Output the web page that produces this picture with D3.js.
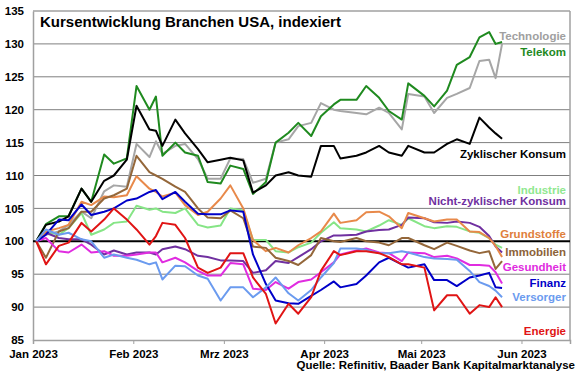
<!DOCTYPE html>
<html>
<head>
<meta charset="utf-8">
<script src="https://cdn.jsdelivr.net/npm/d3@7"></script>
<style>
  body { margin: 0; background: #fff; }
  text { font-family: Arial, "Liberation Sans", sans-serif; font-weight: bold; }
</style>
</head>
<body>
<div id="chart"></div>
<script>
// Handelstage (Stichproben), Index 100 = Jahresanfang
const dates = ["2023-01-02","2023-01-05","2023-01-09","2023-01-12","2023-01-16","2023-01-19","2023-01-23","2023-01-26","2023-01-30",
  "2023-02-02","2023-02-06","2023-02-08","2023-02-10","2023-02-14","2023-02-17","2023-02-21","2023-02-24","2023-02-28",
  "2023-03-03","2023-03-07","2023-03-10","2023-03-14","2023-03-17","2023-03-21","2023-03-24","2023-03-28","2023-03-31",
  "2023-04-04","2023-04-06","2023-04-11","2023-04-14","2023-04-18","2023-04-21","2023-04-25","2023-04-27",
  "2023-05-02","2023-05-05","2023-05-09","2023-05-12","2023-05-16","2023-05-19","2023-05-22","2023-05-24","2023-05-26"];

const technologie = [100,101,101.5,102.5,104.5,103.5,107.6,108.5,108.3,114.8,112.8,115.2,113.3,114.5,114.8,112.5,109.5,109.5,112.6,112.5,108.9,109.5,115,115.5,117.5,118,121,120,119.8,119.5,119.3,120.3,119.5,117,122.4,122,119.5,121.8,122.4,123.3,127.4,127.6,124.8,130];
const telekom = [100,102.6,103.8,103.8,108,106,113.2,111.8,112.6,123.6,120,122,113,115,113.5,113,109,108.8,111.5,111,107.2,109,115,116.5,118,116,119,120.8,121.5,121.5,123.6,121.8,119.8,118.5,124,122.1,120.5,122.9,126.8,128,131,131.8,130,130.3];
const zyklischerKonsum = [100,102.5,103,103.8,108,106,109.2,110,112.4,120.6,117,116.8,114.5,118.5,116.4,114,112,112.4,112.7,112.3,107.4,108.5,110,110.5,110,109.8,114.5,114.5,112.6,113,113.5,114.5,113.5,113,114.5,113.5,113.5,114.8,115.5,114.8,118.8,117.3,116.4,115.6];
const industrie = [100,101.5,101,102,104.3,101,101.8,102.8,103,105.4,104.8,105,104.5,104.3,105,102.5,102.1,102.4,105,104.7,100.2,100.2,98.5,98.3,99.1,99.8,101.3,102.9,102,101.8,101.5,102.4,103.2,102.5,103.5,102.3,102,102.3,102.2,101.5,101.3,100.5,99.5,99];
const nichtZyklischerKonsum = [100,101.3,100.5,100.3,100.3,99.5,98,98.6,98,98.3,98.3,98,98.8,99.2,98.8,97.8,97.6,97.1,97.1,97,95.2,95.6,97,96.7,97.6,98.8,100,100.9,100.9,101,101.5,101.7,101.8,102.5,103.6,103.5,102.9,102.8,103,102.8,102.2,100.8,99.2,98.3];
const grundstoffe = [100,101.5,102,102.5,106,105.5,106.8,106.7,107,109.9,108,107.5,106.8,107.4,105.5,104,104.5,106.5,108.5,105,100.2,98.5,99,98.3,99.4,100.5,101.5,104.2,102.8,103.2,104.4,104.5,103.8,102,104.3,103.5,103,103.3,103.3,101.5,101.4,100.5,99.3,97.6];
const immobilien = [100,97.5,101.5,102,104.5,104.5,106.5,107,108,113,110.5,110,109.5,108.3,107.5,105,103.6,103.5,104.7,103.5,99.2,99,97.5,97,96.4,97.9,100.5,100,99.9,100.5,100,99.8,99.4,100.5,100.5,99.4,98.8,99.8,99.3,98.6,98.2,98.5,95.8,97];
const gesundheit = [100,100.5,98.5,98.3,99.5,98.3,98.5,97.8,97.8,98,98.3,98.3,96.8,97.5,96.8,95.5,94.8,94.8,96.7,96.5,92.8,92.6,93.8,92.8,93.8,94.2,95.3,96.8,98,98.6,98.9,98.3,98.2,97,98.3,98.2,97.6,97.8,97.4,96.4,96.4,96.3,95.3,93.6];
const finanz = [100,101,103.3,103.2,105.6,104,104.5,105,106.2,106.5,107.5,107.8,106.4,107.5,106,104.2,104.1,104.1,104.7,104.5,98,93.5,91,90.6,90.5,91.7,92.6,93.9,93,93.5,94.8,96.8,97.5,96.5,96,96.5,94.1,94.1,93.2,94.5,94.8,95.2,93,92.9];
const versorger = [100,101.8,101,101.3,100.3,100,97.5,98,97.5,97.2,96.5,96.8,94.2,96.3,96.2,94.8,94.3,91,93,93,91.5,93,94.5,92.1,91,92.6,94.5,96.7,98.9,98.9,98.7,98.2,98.2,98.5,98.3,97.6,97.4,97.3,97.2,95.5,93.8,93.2,92.5,91.5];
const energie = [100,96.5,99.3,99.8,102.8,101.5,103.3,105,103.3,101.8,99.5,100.8,102.8,102.5,100.5,96,95.2,96,98.2,98.2,94.5,92,87.5,90.5,89,91.5,95.5,98.5,97.9,98.5,98.5,98.2,97.6,96.5,96.5,96,89.5,91.8,91.8,89,90.3,90,91.5,90];

const seriesNames = ["Technologie","Telekom","Zyklischer Konsum","Industrie","Nicht-zyklischer Konsum","Grundstoffe","Immobilien","Gesundheit","Finanz","Versorger","Energie"];
const seriesValues = [technologie, telekom, zyklischerKonsum, industrie, nichtZyklischerKonsum, grundstoffe, immobilien, gesundheit, finanz, versorger, energie];

const yTicks = [85,90,95,100,105,110,115,120,125,130,135];
const xTicks = ["2023-01-01","2023-02-01","2023-03-01","2023-04-01","2023-05-01","2023-06-01"];
const monthNames = ["Jan","Feb","Mrz","Apr","Mai","Jun"];

// Styles
const colors = ["#a6a6a6","#1f8a1f","#000000","#86e586","#7030a0","#e8894a","#94673a","#e02ce0","#0000c8","#6b9bef","#e01414"];
const labelColors = ["#a0a0a0","#1f8a1f","#000000","#90e890","#7030a0","#e0803c","#8c6239","#e02ce0","#0000c8","#6b9bef","#e01414"];
const labelBaseline = [40, 56, 158, 194, 205, 238, 256, 271, 287, 301, 335];

const parse = d3.utcParse("%Y-%m-%d");

const margin = { top: 11, right: 10, bottom: 35, left: 33 };
const width = 580 - margin.left - margin.right;
const height = 375 - margin.top - margin.bottom;

const svgRoot = d3.select("#chart").append("svg")
    .attr("width", 580)
    .attr("height", 375);

const svg = svgRoot.append("g")
    .attr("transform", "translate(" + margin.left + "," + margin.top + ")");

const x = d3.scaleUtc()
    .domain([parse("2023-01-01"), parse("2023-06-16")])
    .range([0, width]);

const y = d3.scaleLinear()
    .domain([85, 135])
    .range([height, 0]);

// Gitterlinien
svg.selectAll(".grid")
    .data(yTicks.filter(d => d !== 85 && d !== 135 && d !== 100))
    .enter().append("line")
    .attr("x1", 0).attr("x2", width)
    .attr("y1", d => y(d)).attr("y2", d => y(d))
    .attr("stroke", "#7f7f7f")
    .attr("stroke-width", 1);

// Rahmen oben/rechts
svg.append("line").attr("x1", 0).attr("x2", width).attr("y1", 0).attr("y2", 0)
    .attr("stroke", "#a0a0a0").attr("stroke-width", 1.5);
svg.append("line").attr("x1", width).attr("x2", width).attr("y1", 0).attr("y2", height)
    .attr("stroke", "#a0a0a0").attr("stroke-width", 1.5);

// Y-Achse
const yAxis = svg.append("g")
    .call(d3.axisLeft(y).tickValues(yTicks).tickSize(0).tickPadding(9).tickFormat(d3.format("d")));
yAxis.select(".domain").attr("stroke", "#a0a0a0").attr("stroke-width", 1.5);
yAxis.selectAll("text").attr("font-size", "11.5px").attr("fill", "#000")
    .style("font-family", "Arial, 'Liberation Sans', sans-serif").style("font-weight", "bold");

// X-Achse
const xAxis = svg.append("g")
    .attr("transform", "translate(0," + height + ")")
    .call(d3.axisBottom(x)
        .tickValues(xTicks.map(parse))
        .tickSize(4)
        .tickPadding(6)
        .tickFormat(d => monthNames[d.getUTCMonth()] + " " + d.getUTCFullYear()));
xAxis.select(".domain").attr("stroke", "#a0a0a0").attr("stroke-width", 1.5);
xAxis.selectAll(".tick line").attr("stroke", "#a0a0a0");
xAxis.selectAll("text").attr("font-size", "11.5px").attr("fill", "#000")
    .style("font-family", "Arial, 'Liberation Sans', sans-serif").style("font-weight", "bold");

// 100-Linie
svg.append("line")
    .attr("x1", 0).attr("x2", width)
    .attr("y1", y(100)).attr("y2", y(100))
    .attr("stroke", "#000")
    .attr("stroke-width", 2);

// Linien
const line = d3.line()
    .x((d, i) => x(parse(dates[i])))
    .y(d => y(d));

svg.selectAll(".series")
    .data(seriesValues)
    .enter().append("path")
    .attr("class", "series")
    .attr("d", d => line(d))
    .attr("fill", "none")
    .attr("stroke", (d, i) => colors[i])
    .attr("stroke-width", 2)
    .attr("stroke-linejoin", "round");

// Beschriftung der Reihen
svgRoot.selectAll(".label")
    .data(seriesNames)
    .enter().append("text")
    .attr("class", "label")
    .attr("x", 566)
    .attr("y", (d, i) => labelBaseline[i])
    .attr("text-anchor", "end")
    .attr("font-size", "11.5px")
    .attr("fill", (d, i) => labelColors[i])
    .text(d => d);

// Titel
svgRoot.append("text")
    .attr("x", 40)
    .attr("y", 27)
    .attr("font-size", "15px")
    .text("Kursentwicklung Branchen USA, indexiert");

// Quelle
svgRoot.append("text")
    .attr("x", 575)
    .attr("y", 369)
    .attr("text-anchor", "end")
    .attr("font-size", "11.5px")
    .text("Quelle: Refinitiv, Baader Bank Kapitalmarktanalyse");
</script>
</body>
</html>
